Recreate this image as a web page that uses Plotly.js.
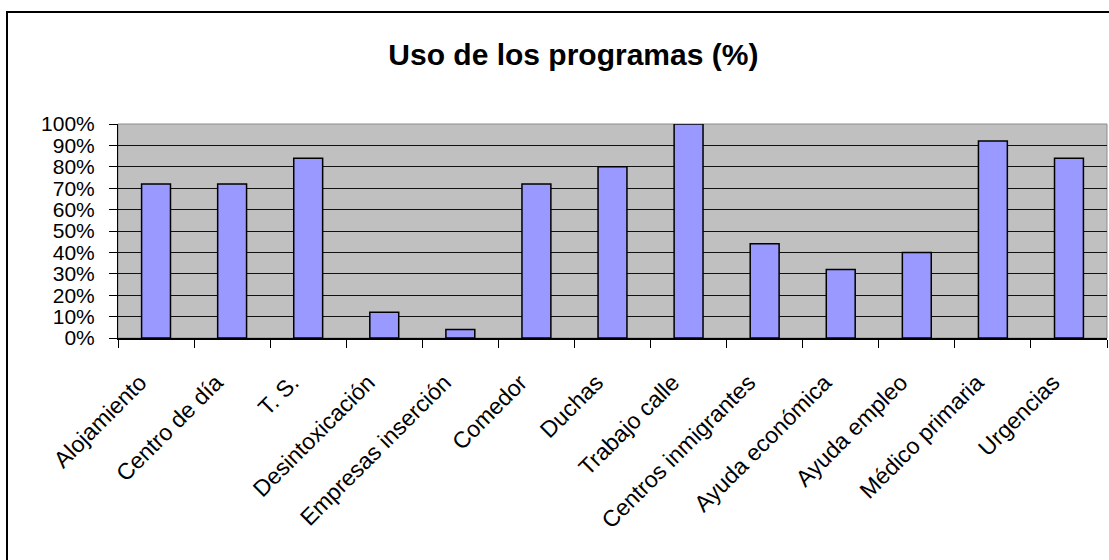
<!DOCTYPE html>
<html>
<head>
<meta charset="utf-8">
<script src="https://cdn.plot.ly/plotly-3.0.1.min.js"></script>
<style>
  html, body { margin: 0; padding: 0; background: #fff; }
  #wrap { position: relative; width: 1109px; height: 560px; overflow: hidden; }
  #chart { position: absolute; left: 0; top: 0; width: 1109px; height: 560px; }
  #frame { position: absolute; left: 6px; top: 11px; width: 1200px; height: 700px;
           border-left: 2px solid #000; border-top: 2px solid #000; pointer-events: none; }
</style>
</head>
<body>
<div id="wrap">
  <div id="chart"></div>
  <div id="frame"></div>
</div>
<script>
const categories = ["Alojamiento", "Centro de día", "T. S.", "Desintoxicación", "Empresas inserción",
  "Comedor", "Duchas", "Trabajo calle", "Centros inmigrantes", "Ayuda económica",
  "Ayuda empleo", "Médico primaria", "Urgencias"];
const usoPct = [72, 72, 84, 12, 4, 72, 80, 100, 44, 32, 40, 92, 84];
const yTickVals = [0, 10, 20, 30, 40, 50, 60, 70, 80, 90, 100];
const yTickText = ["0%", "10%", "20%", "30%", "40%", "50%", "60%", "70%", "80%", "90%", "100%"];
const chartTitle = "Uso de los programas (%)";

const font = "Liberation Sans, Arial, sans-serif";

const trace = {
  type: "bar",
  x: categories,
  y: usoPct,
  marker: { color: "#9999FF", line: { color: "#000000", width: 1.5 } },
  hoverinfo: "x+y"
};

const layout = {
  width: 1109,
  height: 560,
  margin: { l: 118, r: 2, t: 124, b: 222, pad: 0 },
  paper_bgcolor: "#ffffff",
  plot_bgcolor: "#C0C0C0",
  bargap: 0.62,
  showlegend: false,
  title: {
    text: "<b>" + chartTitle + "</b>",
    font: { family: font, size: 30, color: "#000" },
    x: 0.517, xanchor: "center",
    y: 1 - 54 / 560, yref: "container", yanchor: "middle"
  },
  xaxis: {
    type: "category",
    tickangle: -45,
    tickfont: { family: font, size: 23, color: "#000" },
    ticks: "outside",
    tickson: "boundaries",
    ticklen: 8,
    tickcolor: "#000",
    tickwidth: 1,
    ticklabelstandoff: 20,
    ticklabelshift: -16,
    showline: true,
    linecolor: "#000",
    linewidth: 2,
    showgrid: false,
    zeroline: false,
    fixedrange: true
  },
  yaxis: {
    range: [0, 100],
    tickvals: yTickVals,
    ticktext: yTickText,
    tickfont: { family: font, size: 21, color: "#000" },
    ticks: "outside",
    ticklen: 8,
    tickcolor: "#000",
    tickwidth: 1,
    ticklabelstandoff: 10,
    showline: true,
    linecolor: "#000",
    linewidth: 1,
    showgrid: true,
    gridcolor: "#111",
    gridwidth: 1,
    zeroline: false,
    fixedrange: true
  },
  shapes: [{
    type: "rect", xref: "paper", yref: "paper", x0: 0, x1: 1, y0: 0, y1: 1,
    line: { color: "#8c8c8c", width: 1 }, layer: "below"
  }]
};

Plotly.newPlot("chart", [trace], layout, { displayModeBar: false, staticPlot: true });
</script>
</body>
</html>
